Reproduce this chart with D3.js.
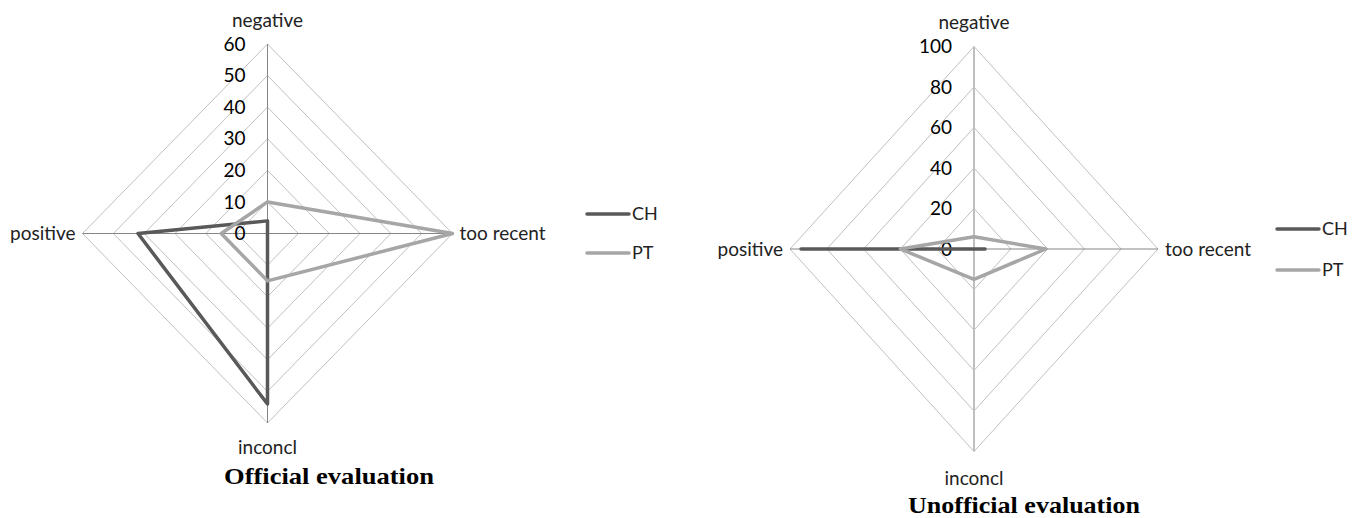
<!DOCTYPE html>
<html>
<head>
<meta charset="utf-8">
<script src="https://cdn.jsdelivr.net/npm/d3@7/dist/d3.min.js"></script>
<style>
  html, body { margin: 0; padding: 0; background: #fff; }
  svg { display: block; }
</style>
</head>
<body>
<svg id="chart" width="1353" height="518"></svg>
<script>
// ---- data ----
const categories = ["negative", "too recent", "inconcl", "positive"];
const seriesNames = ["CH", "PT"];
const officialCH = [4, 0, 54, 42];
const officialPT = [10, 60, 15, 15];
const unofficialCH = [0, 6, 0, 94];
const unofficialPT = [6, 39, 15, 40];
const officialTicks = [0, 10, 20, 30, 40, 50, 60];
const unofficialTicks = [0, 20, 40, 60, 80, 100];
const titles = ["Official evaluation", "Unofficial evaluation"];

const seriesColors = ["#595959", "#a6a6a6"];
const labelFont = "Lato, 'Open Sans', sans-serif";

const svg = d3.select("#chart");

function drawRadar(cfg) {
  const g = svg.append("g");
  const max = d3.max(cfg.ticks);
  const sx = d3.scaleLinear().domain([0, max]).range([0, cfg.rx]);
  const sy = d3.scaleLinear().domain([0, max]).range([0, cfg.ry]);
  const ang = i => -Math.PI / 2 + i * (2 * Math.PI / categories.length);
  const px = (v, i) => cfg.cx + sx(v) * Math.cos(ang(i));
  const py = (v, i) => cfg.cy + sy(v) * Math.sin(ang(i));

  const line = d3.line()
    .x(d => px(d.v, d.i))
    .y(d => py(d.v, d.i))
    .curve(d3.curveLinearClosed);

  // grid rings
  g.selectAll("path.ring")
    .data(cfg.ticks.filter(t => t > 0))
    .join("path")
    .attr("class", "ring")
    .attr("d", t => line(categories.map((c, i) => ({ v: t, i }))))
    .attr("fill", "none")
    .attr("stroke", "#c0c0c0")
    .attr("stroke-width", 1);

  // spokes
  g.selectAll("line.spoke")
    .data(categories)
    .join("line")
    .attr("class", "spoke")
    .attr("x1", cfg.cx).attr("y1", cfg.cy)
    .attr("x2", (c, i) => px(max, i))
    .attr("y2", (c, i) => py(max, i))
    .attr("stroke", (c, i) => (i % 2 === 0 ? cfg.vSpokeColor : "#868686"))
    .attr("stroke-width", (c, i) => (i % 2 === 0 ? cfg.vSpokeWidth : 1));

  // tick labels along value axis
  g.selectAll("text.tick")
    .data(cfg.ticks)
    .join("text")
    .attr("class", "tick")
    .attr("x", cfg.cx - 22)
    .attr("y", t => cfg.cy - sy(t))
    .attr("dy", "0.35em")
    .attr("text-anchor", "end")
    .attr("font-family", labelFont)
    .attr("font-size", 19)
    .attr("fill", "#000")
    .text(t => t);

  // series
  cfg.series.forEach((vals, si) => {
    g.append("path")
      .attr("d", line(vals.map((v, i) => ({ v, i }))))
      .attr("fill", "none")
      .attr("stroke", seriesColors[si])
      .attr("stroke-width", 3.5)
      .attr("stroke-linejoin", "round");
  });

  // category labels
  const catPos = [
    { x: cfg.cx, y: cfg.cy - cfg.ry - 24, anchor: "middle" },
    { x: cfg.cx + cfg.rx + 7, y: cfg.cy, anchor: "start" },
    { x: cfg.cx, y: cfg.cy + cfg.ry + cfg.bottomGap, anchor: "middle" },
    { x: cfg.cx - cfg.rx - 7, y: cfg.cy, anchor: "end" }
  ];
  g.selectAll("text.cat")
    .data(categories)
    .join("text")
    .attr("class", "cat")
    .attr("x", (c, i) => catPos[i].x)
    .attr("y", (c, i) => catPos[i].y)
    .attr("dy", "0.35em")
    .attr("text-anchor", (c, i) => catPos[i].anchor)
    .attr("font-family", labelFont)
    .attr("font-size", 19)
    .attr("fill", "#222")
    .text(c => c);

  // legend
  const lg = g.append("g");
  seriesNames.forEach((s, si) => {
    const y = cfg.legendY + si * cfg.legendGap;
    lg.append("line")
      .attr("x1", cfg.legendX).attr("x2", cfg.legendX + 42)
      .attr("y1", y).attr("y2", y)
      .attr("stroke", seriesColors[si])
      .attr("stroke-width", 3.5)
      .attr("stroke-linecap", "round");
    lg.append("text")
      .attr("x", cfg.legendX + 45)
      .attr("y", y)
      .attr("dy", "0.35em")
      .attr("font-family", labelFont)
      .attr("font-size", 18)
      .attr("fill", "#222")
      .text(s);
  });

  // title
  g.append("text")
    .attr("x", cfg.titleX)
    .attr("y", cfg.titleY)
    .attr("dy", "0.35em")
    .attr("text-anchor", "middle")
    .attr("font-family", "'Liberation Serif', 'Times New Roman', serif")
    .attr("font-weight", "bold")
    .attr("font-size", 23)
    .attr("textLength", cfg.titleWidth)
    .attr("lengthAdjust", "spacingAndGlyphs")
    .attr("fill", "#000")
    .text(cfg.title);
}

drawRadar({
  cx: 267.5, cy: 233.5, rx: 185, ry: 189.5,
  ticks: officialTicks,
  series: [officialCH, officialPT],
  vSpokeColor: "#868686", vSpokeWidth: 1,
  bottomGap: 24,
  legendX: 587, legendY: 214, legendGap: 39,
  titleX: 329, titleY: 476, titleWidth: 210,
  title: titles[0]
});

drawRadar({
  cx: 974, cy: 249, rx: 184, ry: 202.5,
  ticks: unofficialTicks,
  series: [unofficialCH, unofficialPT],
  vSpokeColor: "#bfbfbf", vSpokeWidth: 2,
  bottomGap: 27,
  legendX: 1277, legendY: 229, legendGap: 41,
  titleX: 1024, titleY: 505, titleWidth: 232,
  title: titles[1]
});
</script>
</body>
</html>
